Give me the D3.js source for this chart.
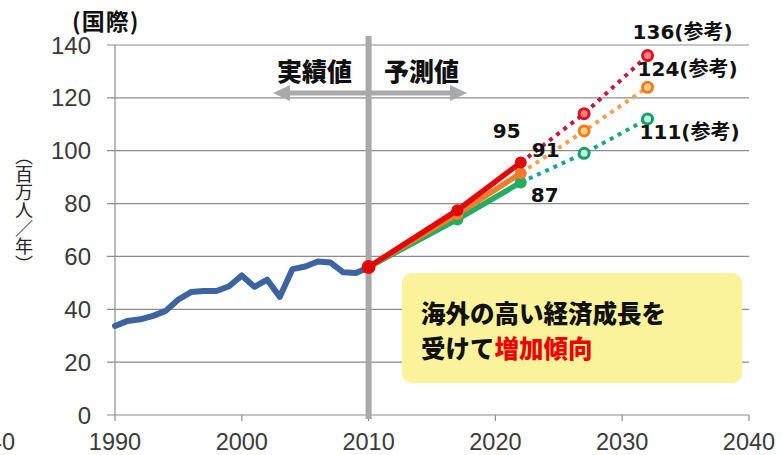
<!DOCTYPE html>
<html><head><meta charset="utf-8">
<script src="https://cdn.jsdelivr.net/npm/d3@7"></script>
<style>
html,body{margin:0;padding:0;background:#fff;}
svg{display:block;}
</style></head>
<body>
<svg id="chart" width="783" height="455"></svg>
<script>
// ---- data ----
const actualYears = [1990,1991,1992,1993,1994,1995,1996,1997,1998,1999,2000,2001,2002,2003,2004,2005,2006,2007,2008,2009,2010];
const actualValues = [33.7,35.6,36.2,37.5,39.4,43.7,46.5,46.9,46.9,48.7,52.8,48.5,51.2,44.7,55.2,56.2,58.1,57.7,54.0,53.7,55.8];

const forecastYears = [2010,2017,2022];
const forecastHigh = [56,77.5,95.5];
const forecastMid  = [56,76,91.5];
const forecastLow  = [56,74,88];

const refYears = [2022,2027,2032];
const refHigh = [95.5,114,136];
const refMid  = [91.5,107.5,124];
const refLow  = [88,99,112];

const labels2022 = ["95","91","87"];
const labels2032 = ["136(参考)","124(参考)","111(参考)"];

const xTicks = [1990,2000,2010,2020,2030,2040];
const yTicks = [0,20,40,60,80,100,120,140];

// ---- scales ----
const svg = d3.select("#chart");
const x = d3.scaleLinear().domain([1990,2040]).range([115,749]);
const y = d3.scaleLinear().domain([0,140]).range([415,45]);

const numFont = "'Liberation Sans', Arial, sans-serif";
const boldNum = "'DejaVu Sans', 'Noto Sans CJK JP', sans-serif";
const jpFont = "'Noto Sans CJK JP', sans-serif";

// gridlines
svg.append("g").selectAll("line").data(yTicks).join("line")
  .attr("x1", 107).attr("x2", x(2040))
  .attr("y1", d => y(d)).attr("y2", d => y(d))
  .attr("stroke", "#8c8c8c").attr("stroke-width", 1.2);

// y axis line
svg.append("line").attr("x1", x(1990)).attr("x2", x(1990))
  .attr("y1", y(140)).attr("y2", y(0)).attr("stroke", "#8c8c8c").attr("stroke-width", 1.2);

// x ticks
svg.append("g").selectAll("line").data(xTicks).join("line")
  .attr("x1", d => x(d)).attr("x2", d => x(d))
  .attr("y1", y(0)).attr("y2", y(0) + 6)
  .attr("stroke", "#8c8c8c").attr("stroke-width", 1.2);

// tick labels
svg.append("g").selectAll("text").data(yTicks).join("text")
  .attr("x", 91).attr("y", d => y(d)).attr("dy", "0.36em")
  .attr("text-anchor", "end").attr("font-family", numFont).attr("font-size", 24)
  .attr("fill", "#3a3a3a").text(d => d);

svg.append("g").selectAll("text").data(xTicks).join("text")
  .attr("x", d => x(d)).attr("y", 450)
  .attr("text-anchor", "middle").attr("font-family", numFont).attr("font-size", 23.5)
  .attr("fill", "#3a3a3a").text(d => d);
// cut-off label at the far left
svg.append("text").attr("x", 15).attr("y", 450).attr("text-anchor", "end")
  .attr("font-family", numFont).attr("font-size", 23.5).attr("fill", "#3a3a3a").text("40");

// axis titles
svg.append("text").attr("x", 72).attr("y", 30)
  .attr("font-family", jpFont).attr("font-weight", 700).attr("font-size", 23)
  .attr("letter-spacing", 1).attr("fill", "#111").text("(国際)");
svg.append("text").attr("x", 24).attr("y", 210)
  .attr("text-anchor", "middle")
  .style("writing-mode", "vertical-rl")
  .attr("font-family", jpFont).attr("font-size", 18).attr("fill", "#222")
  .text("（百万人／年）");

// divider bar and arrows
const gray = "#a9a9a9";
svg.append("rect").attr("x", x(2010) - 3).attr("y", 36).attr("width", 6)
  .attr("height", y(0) - 36 + 4).attr("fill", gray);
const ay = 93;
svg.append("path")
  .attr("d", `M273,${ay} L290,${ay-8} L290,${ay-2.5} L450,${ay-2.5} L450,${ay-8} L467,${ay} L450,${ay+8} L450,${ay+2.5} L290,${ay+2.5} L290,${ay+8} Z`)
  .attr("fill", gray);
svg.append("text").attr("x", 352).attr("y", 81).attr("text-anchor", "end")
  .attr("font-family", jpFont).attr("font-weight", 900).attr("font-size", 25)
  .attr("fill", "#111").text("実績値");
svg.append("text").attr("x", 384).attr("y", 81)
  .attr("font-family", jpFont).attr("font-weight", 900).attr("font-size", 25)
  .attr("fill", "#111").text("予測値");

// actual line
const line = d3.line().x(d => x(d[0])).y(d => y(d[1]));
svg.append("path").datum(d3.zip(actualYears, actualValues))
  .attr("d", line).attr("fill", "none").attr("stroke", "#3d64a0")
  .attr("stroke-width", 6).attr("stroke-linejoin", "round").attr("stroke-linecap", "round");

// reference dotted lines
const refSeries = [
  {v: refLow,  line: "#16a88c", ring: "#13a06a", fill: "#c9f0dc"},
  {v: refMid,  line: "#f3a050", ring: "#ee7d20", fill: "#ffd080"},
  {v: refHigh, line: "#c21a3c", ring: "#d8152a", fill: "#ff8080"}
];
refSeries.forEach(s => {
  svg.append("path").datum(d3.zip(refYears, s.v)).attr("d", line)
    .attr("fill", "none").attr("stroke", s.line).attr("stroke-width", 4)
    .attr("stroke-dasharray", "4,5");
  svg.append("g").selectAll("circle").data(d3.zip(refYears, s.v).slice(1)).join("circle")
    .attr("cx", d => x(d[0])).attr("cy", d => y(d[1])).attr("r", 5)
    .attr("fill", s.fill).attr("stroke", s.ring).attr("stroke-width", 3);
});

// forecast solid lines
const fcSeries = [
  {v: forecastLow,  c: "#22ad62"},
  {v: forecastMid,  c: "#f07c2c"},
  {v: forecastHigh, c: "#e00a0a"}
];
fcSeries.forEach(s => {
  svg.append("path").datum(d3.zip(forecastYears, s.v)).attr("d", line)
    .attr("fill", "none").attr("stroke", s.c).attr("stroke-width", 5.5)
    .attr("stroke-linejoin", "round");
  svg.append("g").selectAll("circle").data(d3.zip(forecastYears, s.v).slice(1)).join("circle")
    .attr("cx", d => x(d[0])).attr("cy", d => y(d[1])).attr("r", 6)
    .attr("fill", s.c);
});
svg.append("circle").attr("cx", x(2010)).attr("cy", y(forecastHigh[0])).attr("r", 7).attr("fill", "#e00a0a");

// value labels
const lblStyle = sel => sel.attr("font-family", boldNum).attr("font-weight", 700)
  .attr("font-size", 20).attr("fill", "#111");
const p22 = [forecastHigh[2], forecastMid[2], forecastLow[2]];
const off22 = [[-28, -25], [11, -16], [10, 20]];
labels2022.forEach((t, i) => {
  svg.append("text").attr("x", x(2022) + off22[i][0]).attr("y", y(p22[i]) + off22[i][1])
    .call(lblStyle).text(t);
});
const p32 = [refHigh[2], refMid[2], refLow[2]];
const off32 = [[-15, -17], [-10, -11], [-8, 20]];
labels2032.forEach((t, i) => {
  svg.append("text").attr("x", x(2032) + off32[i][0]).attr("y", y(p32[i]) + off32[i][1])
    .call(lblStyle).text(t);
});

// annotation box
svg.append("rect").attr("x", 402).attr("y", 273).attr("width", 340).attr("height", 110)
  .attr("rx", 10).attr("fill", "#faf39c");
svg.append("text").attr("x", 421).attr("y", 323)
  .attr("font-family", jpFont).attr("font-weight", 900).attr("font-size", 24.5)
  .attr("fill", "#111").text("海外の高い経済成長を");
const t2 = svg.append("text").attr("x", 421).attr("y", 358)
  .attr("font-family", jpFont).attr("font-weight", 900).attr("font-size", 24.5)
  .attr("fill", "#111");
t2.append("tspan").text("受けて");
t2.append("tspan").attr("fill", "#f00000").text("増加傾向");
</script>
</body></html>
